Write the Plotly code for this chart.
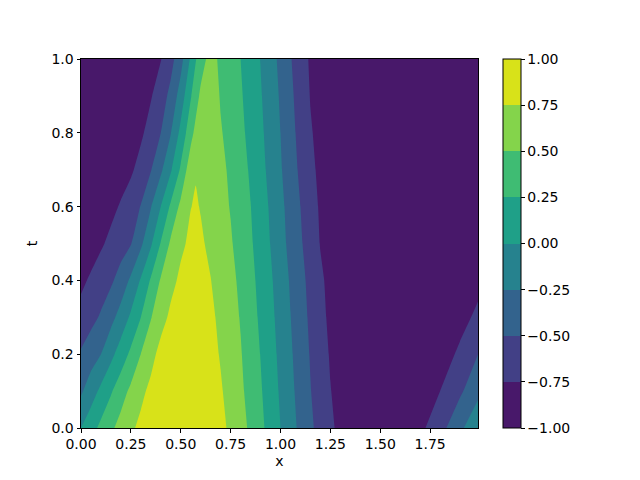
import plotly.graph_objects as go

# grid positions (x) and times (t)
x_vals = [0.0, 0.05, 0.1, 0.15, 0.2, 0.25, 0.3, 0.35, 0.4, 0.45, 0.5, 0.55, 0.575, 0.6, 0.65,
          0.7, 0.75, 0.8, 0.85, 0.9, 0.95, 1.0, 1.05, 1.1, 1.15, 1.2, 1.25, 1.3,
          1.4, 1.5, 1.6, 1.7, 1.8, 1.9, 1.99]
t_vals = [0.0, 0.1, 0.2, 0.3, 0.4, 0.5, 0.6, 0.7, 0.8, 0.9, 1.0]

# u(x, t)
u_t00 = [0.0, 0.156, 0.309, 0.454, 0.588, 0.707, 0.809, 0.891, 0.951, 0.988, 1.0, 0.988, 0.972, 0.951, 0.891,
         0.809, 0.707, 0.588, 0.454, 0.309, 0.156, 0.0, -0.156, -0.309, -0.454, -0.588, -0.707, -0.809,
         -0.951, -1.0, -0.951, -0.809, -0.588, -0.309, -0.031]
u_t01 = [-0.285, -0.118, 0.057, 0.223, 0.394, 0.552, 0.69, 0.81, 0.87, 0.92, 0.95, 0.96, 0.95, 0.93, 0.87,
         0.775, 0.659, 0.545, 0.416, 0.275, 0.123, -0.031, -0.188, -0.34, -0.491, -0.618, -0.742, -0.83,
         -0.95, -0.98, -0.98, -0.92, -0.75, -0.54, -0.32]
u_t02 = [-0.471, -0.361, -0.25, -0.066, 0.116, 0.302, 0.503, 0.668, 0.83, 0.88, 0.92, 0.93, 0.92, 0.90, 0.83,
         0.732, 0.625, 0.517, 0.383, 0.244, 0.093, -0.059, -0.216, -0.367, -0.516, -0.646, -0.77, -0.84,
         -0.93, -0.97, -0.97, -0.94, -0.89, -0.698, -0.50]
u_t03 = [-0.664, -0.573, -0.471, -0.324, -0.154, 0.042, 0.25, 0.486, 0.659, 0.80, 0.86, 0.89, 0.885, 0.87, 0.80,
         0.695, 0.592, 0.486, 0.349, 0.209, 0.063, -0.089, -0.245, -0.397, -0.543, -0.678, -0.80, -0.86,
         -0.93, -0.96, -0.97, -0.96, -0.93, -0.845, -0.69]
u_t04 = [-0.80, -0.715, -0.628, -0.54, -0.399, -0.205, 0.025, 0.277, 0.525, 0.679, 0.80, 0.85, 0.845, 0.83, 0.755,
         0.656, 0.562, 0.454, 0.318, 0.178, 0.034, -0.119, -0.274, -0.425, -0.571, -0.713, -0.81, -0.86,
         -0.92, -0.95, -0.96, -0.96, -0.94, -0.90, -0.83]
u_t05 = [-0.90, -0.86, -0.78, -0.695, -0.604, -0.513, -0.297, -0.037, 0.263, 0.542, 0.702, 0.80, 0.795, 0.78, 0.705,
         0.614, 0.524, 0.4075, 0.2825, 0.141, -0.006, -0.1625, -0.317, -0.4695, -0.615, -0.76, -0.82, -0.86,
         -0.91, -0.94, -0.95, -0.95, -0.95, -0.94, -0.91]
u_t06 = [-0.93, -0.91, -0.87, -0.81, -0.727, -0.611, -0.491, -0.264, 0.0, 0.29, 0.56, 0.745, 0.77, 0.74, 0.66,
         0.573, 0.488, 0.371, 0.255, 0.114, -0.031, -0.1875, -0.344, -0.5, -0.65, -0.78, -0.84, -0.87,
         -0.91, -0.93, -0.94, -0.95, -0.95, -0.95, -0.94]
u_t07 = [-0.95, -0.94, -0.92, -0.89, -0.85, -0.79, -0.653, -0.514, -0.295, -0.028, 0.286, 0.66, 0.735, 0.72, 0.645,
         0.57, 0.451, 0.339, 0.221, 0.078, -0.071, -0.225, -0.386, -0.545, -0.696, -0.80, -0.86, -0.89,
         -0.92, -0.94, -0.95, -0.95, -0.96, -0.96, -0.96]
u_t08 = [-0.96, -0.955, -0.95, -0.94, -0.92, -0.88, -0.795, -0.647, -0.5, -0.26, 0.068, 0.414, 0.57, 0.67, 0.66,
         0.52, 0.413, 0.304, 0.183, 0.048, -0.098, -0.25, -0.419, -0.578, -0.729, -0.82, -0.87, -0.90,
         -0.93, -0.95, -0.95, -0.96, -0.96, -0.96, -0.96]
u_t09 = [-0.96, -0.96, -0.955, -0.95, -0.94, -0.92, -0.88, -0.77, -0.616, -0.432, -0.136, 0.229, 0.395, 0.55, 0.645,
         0.48, 0.378, 0.276, 0.153, 0.021, -0.125, -0.277, -0.449, -0.608, -0.76, -0.84, -0.88, -0.91,
         -0.94, -0.95, -0.96, -0.96, -0.96, -0.96, -0.96]
u_t10 = [-0.96, -0.96, -0.96, -0.955, -0.95, -0.94, -0.92, -0.88, -0.76, -0.582, -0.339, 0.039, 0.235, 0.384, 0.60,
         0.447, 0.348, 0.25, 0.122, -0.006, -0.153, -0.309, -0.483, -0.641, -0.78, -0.85, -0.89, -0.92,
         -0.945, -0.96, -0.96, -0.96, -0.96, -0.96, -0.96]

z_rows = [u_t00, u_t01, u_t02, u_t03, u_t04, u_t05, u_t06, u_t07, u_t08, u_t09, u_t10]

level_ticks = [-1.0, -0.75, -0.5, -0.25, 0.0, 0.25, 0.5, 0.75, 1.0]
x_ticks = [0.0, 0.25, 0.5, 0.75, 1.0, 1.25, 1.5, 1.75]
t_ticks = [0.0, 0.2, 0.4, 0.6, 0.8, 1.0]

band_colors = ['#48186a', '#424086', '#33638d', '#26828e',
               '#1fa088', '#3fbc73', '#84d44b', '#d8e219']
colorscale = []
n = len(band_colors)
for i, c in enumerate(band_colors):
    colorscale.append([i / n, c])
    colorscale.append([(i + 1) / n, c])

font = dict(family='DejaVu Sans', size=14, color='black')

fig = go.Figure(go.Contour(
    x=x_vals, y=t_vals, z=z_rows,
    zmin=-1, zmax=1, autocontour=False,
    contours=dict(start=-1, end=1, size=0.25, coloring='fill', showlines=False),
    line=dict(width=0, smoothing=0.5),
    colorscale=colorscale,
    colorbar=dict(
        x=(502 - 80) / 397, xanchor='left', y=0.5, yanchor='middle',
        len=1, lenmode='fraction', thickness=18, thicknessmode='pixels',
        xpad=0, ypad=0, outlinewidth=1, outlinecolor='black',
        ticks='outside', ticklen=3.5, tickwidth=0.8, tickcolor='black',
        tickvals=level_ticks, tickformat='.2f', tickfont=font,
    ),
))

fig.update_layout(
    width=640, height=480,
    margin=dict(l=73, r=170, t=51, b=60, autoexpand=False),
    paper_bgcolor='white', plot_bgcolor='white',
    font=font, showlegend=False,
)
fig.update_xaxes(
    range=[0, 1.99], tickvals=x_ticks, tickformat='.2f',
    showline=True, linecolor='black', linewidth=1, mirror=True,
    ticks='outside', ticklen=3.5, tickwidth=0.8, tickcolor='black',
    showgrid=False, zeroline=False, automargin=False,
    title=dict(text='x', font=font, standoff=4),
)
fig.update_yaxes(
    range=[0, 1], tickvals=t_ticks, tickformat='.1f',
    showline=True, linecolor='black', linewidth=1, mirror=True,
    ticks='outside', ticklen=3.5, tickwidth=0.8, tickcolor='black',
    showgrid=False, zeroline=False, automargin=False,
    title=dict(text='t', font=font, standoff=10),
)

fig.write_html('out.html')
